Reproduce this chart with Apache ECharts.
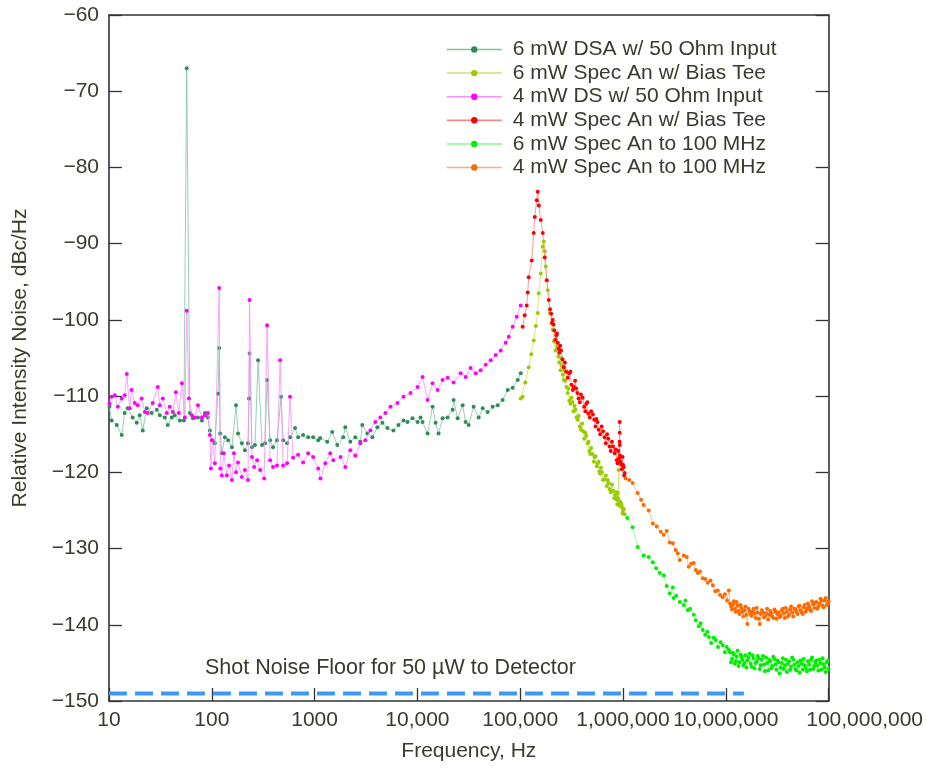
<!DOCTYPE html>
<html>
<head>
<meta charset="utf-8">
<script src="https://cdn.jsdelivr.net/npm/echarts@6/dist/echarts.min.js"></script>
<style>html,body{margin:0;padding:0;background:#fff}#c{width:926px;height:768px}</style>
</head>
<body>
<div id="c"></div>
<script>
// ---- data: [frequency Hz, dBc/Hz] ----
const dsa6mW = [[10.1,-111.4],[10.6,-113.2],[11.9,-113.8],[13.3,-115.1],[14.2,-112.2],[15.2,-111.6],[17.0,-112.8],[18.6,-113.5],[19.9,-112.5],[21.3,-114.5],[23.3,-111.6],[26.0,-112.2],[29.2,-111.8],[31.2,-112.5],[34.9,-112.8],[37.3,-113.8],[40.8,-112.8],[43.6,-112.5],[48.9,-113.2],[53.5,-113.2],[57,-67.0],[61.2,-112.2],[65.5,-112.9],[73.3,-112.8],[80.2,-113.2],[85.7,-112.2],[91.6,-112.8],[95.8,-114.5],[100,-115.8],[107,-116.2],[115,-109.7],[118,-103.7],[120.5,-114.9],[125,-117.5],[134,-115.4],[144,-115.8],[157,-116.7],[172,-111.2],[180,-114.9],[196,-116.2],[210,-117.1],[225,-116.2],[230,-110.3],[233,-104.4],[246,-116.7],[263,-116.4],[282,-105.3],[308,-116.4],[330,-116.2],[345,-107.9],[369,-115.8],[394,-116.7],[431,-115.8],[472,-110.1],[494,-115.8],[540,-116.2],[577,-115.4],[646,-114.2],[691,-115.4],[773,-115.1],[866,-115.4],[969,-115.4],[1084,-115.8],[1133,-115.5],[1326,-116.0],[1484,-114.7],[1660,-116.4],[1900,-115.4],[1988,-114.1],[2224,-116.0],[2489,-115.4],[2785,-116.0],[2912,-113.8],[3259,-114.9],[3647,-115.4],[4080,-114.1],[4566,-113.5],[5108,-114.2],[5848,-114.5],[6543,-113.8],[7321,-113.2],[8012,-113.4],[8965,-112.9],[10030,-113.4],[10730,-112.8],[11220,-113.4],[12560,-114.9],[14040,-111.4],[15030,-113.5],[16070,-114.9],[17580,-112.9],[19670,-112.8],[21990,-111.8],[22500,-110.5],[24610,-112.9],[27540,-111.2],[29450,-113.4],[31500,-113.8],[35240,-111.4],[39430,-112.8],[43140,-111.6],[48200,-112.1],[53950,-111.4],[60370,-111.2],[67550,-110.5],[75580,-109.2],[84570,-108.9],[94700,-107.9],[101200,-107.0]];

const specBias6mW = [[101200,-110.3],[105700,-110.1],[112000,-108.2],[121000,-106.2],[128000,-104.5],[135400,-102.7],[142000,-100.8],[148200,-99.1],[151600,-96.5],[158500,-93.9],[165800,-90.4],[169600,-89.7],[173400,-91.0],[177400,-93.0],[185500,-96.1],[194000,-99.1],[207500,-101.3],[220800,-104.0],[230000,-103.5],[240000,-105.6],[247000,-106.6],[255000,-106.0],[265000,-107.9],[275000,-108.0],[289000,-109.6],[300000,-110.6],[315000,-110.2],[330000,-112.0],[345000,-111.8],[362000,-113.1],[380000,-114.0],[400000,-113.6],[420000,-115.6],[440000,-115.2],[453000,-116.2],[470000,-117.2],[490000,-116.8],[520000,-118.6],[540000,-117.9],[567000,-118.8],[590000,-119.9],[610000,-119.4],[640000,-121.0],[680000,-120.4],[710000,-121.0],[740000,-122.2],[780000,-121.6],[820000,-123.4],[860000,-122.6],[880000,-124.2],[889000,-122.7],[909000,-119.7],[930000,-123.8],[949000,-124.0],[980000,-124.6],[1000000,-125.0],[1037000,-125.5]];
const specBias6mWExtra = [[213000,-102.8],[225000,-103.0],[235000,-104.8],[251000,-105.0],[260000,-107.2],[270000,-106.6],[282000,-108.8],[295000,-109.0],[308000,-111.0],[322000,-110.8],[338000,-111.3],[353000,-112.8],[370000,-112.6],[390000,-114.4],[410000,-114.6],[430000,-114.8],[462000,-116.0],[480000,-117.6],[505000,-117.6],[530000,-118.0],[555000,-119.2],[580000,-118.6],[600000,-120.2],[625000,-120.0],[660000,-120.9],[695000,-121.8],[725000,-121.4],[760000,-122.6],[800000,-122.4],[840000,-123.0],[870000,-123.6],[895000,-123.4],[920000,-124.4],[965000,-124.2],[990000,-125.4],[1020000,-124.8]];

const ds4mW = [[10.1,-111.0],[10.6,-110.1],[11.4,-109.9],[12.2,-111.4],[13.3,-110.3],[14.2,-109.9],[14.9,-107.1],[15.9,-111.6],[16.6,-109.2],[17.8,-110.9],[19.0,-111.2],[20.8,-110.3],[22.3,-112.1],[23.8,-112.2],[26.6,-110.9],[29.8,-108.8],[31.2,-111.2],[33.4,-110.3],[36.5,-112.2],[39.0,-111.4],[41.8,-112.1],[44.7,-109.5],[47.8,-112.2],[51.2,-108.3],[54.7,-112.8],[57,-98.8],[59.9,-110.3],[64.1,-112.5],[68.5,-112.8],[73.3,-111.2],[80.2,-112.8],[85.7,-112.5],[91.6,-112.2],[95.8,-115.1],[98,-119.5],[101,-115.8],[107,-118.8],[118,-95.8],[121,-119.5],[125,-120.4],[131,-117.5],[140,-120.4],[147,-119.1],[157,-121.0],[164,-117.5],[172,-120.0],[180,-118.7],[196,-120.6],[210,-119.7],[225,-121.0],[233,-97.4],[246,-118.0],[258,-119.3],[276,-118.4],[295,-119.7],[323,-120.8],[345,-100.7],[369,-118.4],[394,-119.3],[431,-119.1],[462,-105.3],[494,-119.1],[540,-118.8],[577,-110.1],[618,-118.1],[691,-117.7],[773,-118.7],[866,-117.5],[969,-118.0],[1084,-119.5],[1140,-120.8],[1270,-118.8],[1420,-117.5],[1520,-118.4],[1790,-118.0],[1988,-119.3],[2224,-117.1],[2489,-117.8],[2785,-116.2],[3115,-115.8],[3486,-114.5],[3900,-113.4],[4364,-112.8],[4883,-112.2],[5463,-111.4],[6397,-110.9],[7321,-110.1],[8571,-109.6],[10030,-108.8],[11220,-107.5],[12560,-110.5],[14040,-108.3],[15720,-109.2],[17580,-107.9],[19670,-107.6],[22500,-108.2],[26330,-107.0],[29450,-107.5],[32950,-106.3],[36870,-107.0],[41250,-106.6],[46150,-105.9],[51630,-105.3],[57770,-104.6],[64640,-104.0],[72320,-103.0],[77420,-102.2],[84570,-100.9],[92500,-99.6],[101200,-98.1]];

const specBias4mW = [[105700,-100.9],[110600,-99.4],[115700,-98.1],[118300,-96.4],[121000,-94.4],[129500,-92.2],[135400,-88.6],[138500,-86.5],[144900,-84.3],[148200,-83.2],[151600,-85.0],[158500,-86.9],[165800,-88.6],[173400,-91.8],[181400,-94.8],[189700,-97.4],[200000,-99.2],[207500,-100.0],[215000,-101.4],[225000,-102.0],[232200,-103.0],[240000,-104.3],[250000,-104.0],[265400,-106.2],[280000,-106.8],[300000,-107.0],[315000,-108.5],[333300,-108.8],[350000,-109.0],[370000,-110.3],[390000,-109.8],[418600,-111.4],[440000,-111.0],[460000,-112.3],[490000,-112.0],[525700,-113.1],[550000,-113.0],[580000,-114.4],[620000,-114.0],[660300,-115.4],[700000,-115.0],[740000,-116.6],[780000,-116.0],[829200,-117.5],[870000,-118.4],[900000,-117.2],[926000,-116.0],[927000,-113.4],[928000,-114.8],[929000,-116.4],[935000,-117.8],[960000,-119.0],[990000,-118.0],[1016000,-119.3],[1039000,-120.1]];
const specBias4mWExtra = [[195000,-98.6],[203000,-100.4],[211000,-100.6],[220000,-102.6],[228000,-101.8],[236000,-103.8],[245000,-103.4],[258000,-105.2],[272000,-105.6],[290000,-107.6],[308000,-106.8],[325000,-109.2],[342000,-108.0],[360000,-109.6],[380000,-110.8],[405000,-110.2],[430000,-112.0],[450000,-110.8],[475000,-112.8],[510000,-112.4],[540000,-114.0],[565000,-113.4],[600000,-115.0],[640000,-114.6],[680000,-116.2],[720000,-115.6],[760000,-117.2],[800000,-116.6],[850000,-117.0],[885000,-118.8],[915000,-118.2],[945000,-118.6],[975000,-119.6],[1000000,-119.0],[1028000,-120.4]];

const spec100M6mW = [[1100000,-126.0],[1240000,-127.2],[1390000,-129.8],[1590000,-130.9],[1780000,-131.1],[1950000,-131.8],[2100000,-132.6],[2280000,-133.2],[2490000,-133.5],[2660000,-134.9],[2850000,-135.9],[3050000,-135.1],[3120000,-136.5],[3300000,-136.2],[3570000,-137.0],[3900000,-137.4],[4050000,-136.8],[4270000,-138.1],[4500000,-137.9],[4880000,-138.7],[5100000,-139.4],[5460000,-140.2],[5700000,-139.8],[5970000,-140.7],[6300000,-141.3],[6600000,-140.9],[6840000,-141.6],[7200000,-142.4],[7600000,-141.7],[8000000,-142.0],[8400000,-142.9],[8900000,-142.3],[9350000,-142.7],[9800000,-143.6],[10200000,-142.9],[10700000,-143.3],[11000000,-143.6],[11500000,-144.5],[12000000,-143.9],[12500000,-144.8],[13000000,-143.4],[13600000,-144.9],[14200000,-144.2],[14800000,-145.3],[15500000,-144.0],[16200000,-144.7],[17000000,-143.8],[17800000,-145.5],[18600000,-144.4],[19500000,-145.0],[20400000,-144.1],[21400000,-145.8],[22400000,-144.6],[23500000,-145.2],[24600000,-144.3],[25800000,-146.0],[27000000,-144.8],[28300000,-145.4],[29700000,-144.5],[31100000,-145.9],[32600000,-144.9],[34200000,-145.6],[35800000,-144.4],[37500000,-145.3],[39300000,-146.2],[41200000,-144.8],[43200000,-145.5],[45300000,-144.6],[47500000,-145.8],[49800000,-144.9],[52200000,-146.3],[54700000,-145.1],[57300000,-144.5],[60000000,-145.7],[63000000,-144.8],[66000000,-145.9],[69000000,-144.3],[72500000,-145.4],[76000000,-144.7],[79500000,-146.0],[83500000,-145.0],[87500000,-144.4],[91500000,-145.6],[96000000,-144.9],[100000000,-145.8]];
const spec100M6mWExtra = [[11250000,-144.9],[11750000,-143.7],[12250000,-145.1],[12750000,-144.2],[13300000,-145.4],[13900000,-143.9],[14500000,-144.6],[15150000,-145.0],[15850000,-145.6],[16600000,-144.3],[17400000,-145.1],[18200000,-144.0],[19000000,-145.7],[20000000,-144.8],[20900000,-144.4],[21900000,-145.3],[23000000,-144.1],[24000000,-146.1],[25200000,-145.0],[26400000,-144.6],[27600000,-145.7],[29000000,-144.2],[30400000,-145.2],[31800000,-144.7],[33400000,-146.4],[35000000,-145.0],[36600000,-145.8],[38400000,-144.6],[40200000,-145.1],[42200000,-145.9],[44200000,-144.3],[46400000,-145.2],[48600000,-146.0],[51000000,-145.4],[53400000,-144.7],[56000000,-145.9],[58600000,-145.3],[61500000,-146.1],[64500000,-145.2],[67500000,-144.6],[70700000,-145.8],[74200000,-144.9],[77700000,-145.3],[81500000,-144.6],[85500000,-145.9],[89500000,-145.2],[93800000,-146.2],[98000000,-144.7]];

const spec100M4mW = [[1060000,-120.8],[1150000,-121.0],[1240000,-121.4],[1390000,-122.7],[1500000,-123.6],[1590000,-124.3],[1780000,-125.0],[1950000,-126.7],[2130000,-127.1],[2330000,-127.8],[2490000,-128.2],[2660000,-127.7],[2850000,-129.2],[3050000,-129.3],[3250000,-130.2],[3410000,-130.6],[3570000,-131.5],[3900000,-130.9],[4170000,-131.1],[4360000,-132.4],[4600000,-132.0],[4880000,-131.9],[5100000,-132.8],[5340000,-133.2],[5600000,-133.0],[5970000,-133.9],[6300000,-134.0],[6680000,-134.5],[7100000,-134.2],[7480000,-134.8],[7900000,-135.6],[8360000,-135.5],[8800000,-136.1],[9350000,-136.4],[9800000,-136.0],[10300000,-136.8],[10700000,-135.5],[11000000,-137.2],[11500000,-138.0],[12000000,-136.9],[12500000,-138.3],[13000000,-137.5],[13600000,-138.6],[14200000,-137.8],[14800000,-138.9],[15500000,-137.6],[16200000,-139.9],[17000000,-138.2],[17800000,-138.8],[18600000,-137.9],[19500000,-139.1],[20400000,-138.4],[21400000,-139.9],[22400000,-138.1],[23500000,-139.0],[24600000,-138.5],[25800000,-139.3],[27000000,-138.2],[28300000,-138.9],[29700000,-138.0],[31100000,-139.2],[32600000,-138.4],[34200000,-138.8],[35800000,-137.9],[37500000,-139.1],[39300000,-138.3],[41200000,-138.7],[43200000,-137.6],[45300000,-138.9],[47500000,-138.0],[49800000,-138.6],[52200000,-137.5],[54700000,-138.4],[57300000,-137.7],[60000000,-138.3],[63000000,-137.2],[66000000,-138.0],[69000000,-136.9],[72500000,-137.8],[76000000,-137.0],[79500000,-137.6],[83500000,-136.6],[87500000,-137.5],[91500000,-136.8],[96000000,-137.4],[100000000,-136.9]];
const spec100M4mWExtra = [[11250000,-137.6],[11750000,-137.3],[12250000,-137.9],[12750000,-137.0],[13300000,-138.2],[13900000,-137.4],[14500000,-138.3],[15150000,-138.1],[15850000,-138.7],[16600000,-137.9],[17400000,-138.6],[18200000,-138.3],[19000000,-138.5],[20000000,-137.8],[20900000,-139.2],[21900000,-138.6],[23000000,-138.4],[24000000,-138.9],[25200000,-137.9],[26400000,-138.7],[27600000,-138.5],[29000000,-139.1],[30400000,-138.3],[31800000,-138.6],[33400000,-139.0],[35000000,-138.1],[36600000,-138.5],[38400000,-137.8],[40200000,-138.9],[42200000,-138.0],[44200000,-138.4],[46400000,-137.9],[48600000,-138.3],[51000000,-137.6],[53400000,-138.1],[56000000,-138.6],[58600000,-137.4],[61500000,-137.9],[64500000,-137.6],[67500000,-138.2],[70700000,-137.3],[74200000,-137.1],[77700000,-137.9],[81500000,-137.2],[85500000,-136.8],[89500000,-137.7],[93800000,-136.5],[98000000,-137.3]];

const shotNoise = [[10,-149],[15000000,-149]];

const seriesNames = ['6 mW DSA w/ 50 Ohm Input','6 mW Spec An w/ Bias Tee','4 mW DS w/ 50 Ohm Input','4 mW Spec An w/ Bias Tee','6 mW Spec An to 100 MHz','4 mW Spec An to 100 MHz'];
const yTicks = [-150,-140,-130,-120,-110,-100,-90,-80,-70,-60];
const xTickLabels = {10:'10',100:'100',1000:'1000',10000:'10,000',100000:'100,000',1000000:'1,000,000',10000000:'10,000,000',100000000:'100,000,000'};
const shotLabel = 'Shot Noise Floor for 50 \u00b5W to Detector';

const FONT = '"Liberation Sans", Arial, Helvetica, sans-serif';
const TXT = '#3a3a30';
const styles = [
  {c:'#2e8b5a', l:'#7cc49d'},
  {c:'#99cc00', l:'#c9e36e'},
  {c:'#ff00ff', l:'#ff8cff'},
  {c:'#ff0000', l:'#ff8080'},
  {c:'#00ee00', l:'#8cf78c'},
  {c:'#ff6a00', l:'#ffab78'}
];
const byFreq = (a,b)=>a[0]-b[0];
const datasets = [
  dsa6mW,
  specBias6mW.concat(specBias6mWExtra).sort(byFreq),
  ds4mW,
  specBias4mW.concat(specBias4mWExtra).sort(byFreq),
  spec100M6mW.concat(spec100M6mWExtra).sort(byFreq),
  spec100M4mW.concat(spec100M4mWExtra).sort(byFreq)
];

const chart = echarts.init(document.getElementById('c'), null, {renderer:'canvas'});
const axisCommonY = {
  type:'value', min:yTicks[0], max:yTicks[yTicks.length-1], interval:10,
  axisLine:{show:true, lineStyle:{color:'#333', width:1.6}},
  axisTick:{show:true, inside:true, length:13, lineStyle:{color:'#333', width:1.3}},
  splitLine:{show:false}
};
const option = {
  animation:false,
  backgroundColor:'#fff',
  textStyle:{fontFamily:FONT},
  grid:{left:109, right:97, top:15, bottom:67, containLabel:false},
  legend:{
    data:seriesNames, orient:'vertical', left:441, top:34,
    itemWidth:55, itemHeight:8, itemGap:2.6,
    lineStyle:{width:1.5},
    textStyle:{fontFamily:FONT, fontSize:21, color:TXT, lineHeight:21, padding:[0,0,0,6]}
  },
  xAxis:[{
    type:'log', logBase:10, min:10, max:100000000,
    name:'Frequency, Hz', nameLocation:'middle', nameGap:40,
    nameTextStyle:{fontFamily:FONT, fontSize:21, color:TXT},
    axisLine:{show:true, lineStyle:{color:'#333', width:1.6}},
    axisTick:{show:true, inside:true, length:13, lineStyle:{color:'#333', width:1.3}},
    axisLabel:{fontFamily:FONT, fontSize:21, color:TXT, margin:9, showMaxLabel:true, showMinLabel:true, hideOverlap:false,
      formatter:v=>{const r=Math.round(v); const t=xTickLabels[r]||''; return r===100000000?'{last|'+t+'}':t;},
      rich:{last:{fontFamily:FONT, fontSize:21, color:TXT, padding:[0,0,0,72]}}},
    splitLine:{show:false}, minorTick:{show:false}
  },{
    type:'log', logBase:10, min:10, max:100000000, position:'top',
    axisLine:{show:true, lineStyle:{color:'#333', width:1.6}},
    axisTick:{show:false}, axisLabel:{show:false}, splitLine:{show:false}
  }],
  yAxis:[Object.assign({}, axisCommonY, {
    name:'Relative Intensity Noise, dBc/Hz', nameLocation:'middle', nameGap:78, nameRotate:90,
    nameTextStyle:{fontFamily:FONT, fontSize:21, color:TXT},
    axisLabel:{fontFamily:FONT, fontSize:21, color:TXT, margin:10, formatter:v=>v<0?'\u2212'+Math.abs(v):String(v)}
  }), Object.assign({}, axisCommonY, {position:'right', axisLabel:{show:false}})],
  graphic:[{
    type:'text', left:205, top:657,
    style:{text:shotLabel, font:'21.5px ' + FONT, fill:TXT}
  }],
  series: datasets.map((d,i)=>({
    name:seriesNames[i], type:'line', data:d, xAxisIndex:0, yAxisIndex:0,
    symbol:'circle', symbolSize:4, showSymbol:true,
    itemStyle:{color:styles[i].c},
    lineStyle:{color:styles[i].l, width:0.8},
    emphasis:{disabled:true}, z:2+i
  })).concat([{
    name:'Shot Noise', type:'line', data:shotNoise, symbol:'none',
    lineStyle:{color:'#3d97f5', width:4, type:[18,8]}, z:1
  }])
};
chart.setOption(option);
</script>
</body>
</html>
